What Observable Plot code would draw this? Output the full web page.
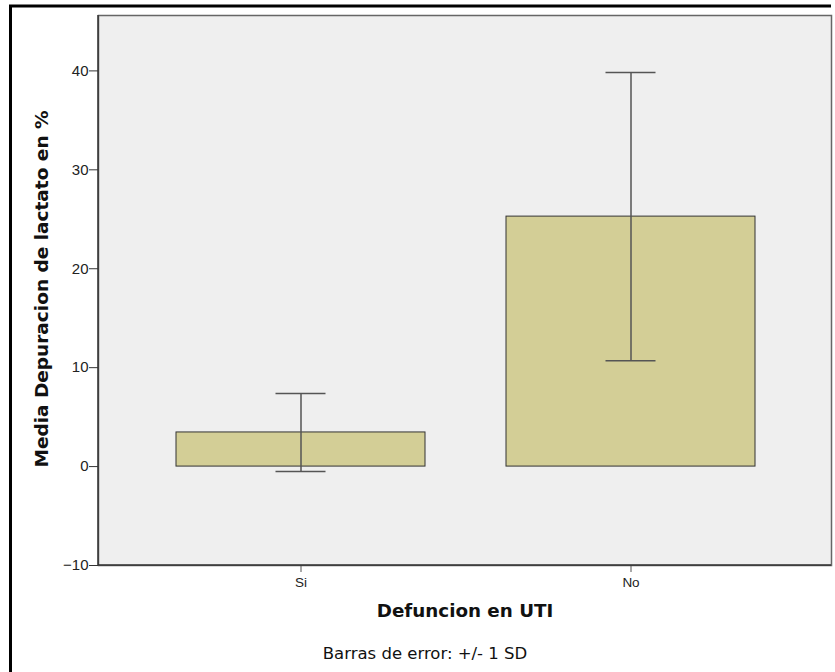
<!DOCTYPE html>
<html>
<head>
<meta charset="utf-8">
<script src="https://cdn.jsdelivr.net/npm/d3@7"></script>
<script src="https://cdn.jsdelivr.net/npm/@observablehq/plot@0.6"></script>
<style>
  html, body { margin: 0; padding: 0; background: #fff; }
  #chart svg { display: block; }
</style>
</head>
<body>
<div id="chart"></div>
<script>
const categories = ["Si", "No"];
const means = [3.45, 25.27];
const sds = [3.95, 14.58];
const yTicks = [-10, 0, 10, 20, 30, 40];
const yLabel = "Media Depuracion de lactato en %";
const xLabel = "Defuncion en UTI";
const caption = "Barras de error: +/- 1 SD";

const data = categories.map((c, i) => ({cat: c, mean: means[i], lo: means[i] - sds[i], hi: means[i] + sds[i]}));

const W = 835, H = 672;
const mL = 98, mR = 4, mT = 15, mB = 107;
const capHalfInset = 99.5;

const chart = Plot.plot({
  width: W, height: H,
  marginLeft: mL, marginRight: mR, marginTop: mT, marginBottom: mB,
  style: {fontFamily: "'Liberation Sans', Arial, sans-serif", fontSize: "13px", color: "#222", background: "transparent"},
  x: {domain: categories, paddingInner: 0.245, paddingOuter: 0.232, align: 0.51, label: null},
  y: {domain: [-10, 45.6], label: null},
  marks: [
    Plot.frame({fill: "#efefef", stroke: "none"}),
    Plot.barY(data, {x: "cat", y: "mean", fill: "#d3ce96", stroke: "#333", strokeWidth: 1}),
    Plot.ruleX(data, {x: "cat", y1: "lo", y2: "hi", stroke: "#555", strokeWidth: 1.5}),
    Plot.tickY(data, {x: "cat", y: "lo", insetLeft: capHalfInset, insetRight: capHalfInset, stroke: "#555", strokeWidth: 1.5}),
    Plot.tickY(data, {x: "cat", y: "hi", insetLeft: capHalfInset, insetRight: capHalfInset, stroke: "#555", strokeWidth: 1.5}),
    Plot.frame({stroke: "#666", strokeWidth: 1.5}),
    Plot.axisY({ticks: yTicks, tickSize: 9, tickPadding: 1, label: null, stroke: "#333", fontSize: 15}),
    Plot.axisX({tickSize: 7, tickPadding: 5, label: null, stroke: "#555", fontSize: 13.5})
  ]
});

const svg = d3.select(chart);
svg.selectAll('g[aria-label="y-axis tick label"]').style("font-size", "15px");
svg.selectAll('g[aria-label="y-axis tick label"] text').style("font-size", "15px");
svg.selectAll('g[aria-label="x-axis tick label"]').style("font-size", "13.5px");
svg.selectAll('g[aria-label="x-axis tick label"] text').style("font-size", "13.5px");
// left & bottom axis lines darker
svg.append("line").attr("x1", mL).attr("x2", mL).attr("y1", mT).attr("y2", H - mB)
  .attr("stroke", "#333").attr("stroke-width", 1.5);
svg.append("line").attr("x1", mL).attr("x2", W - mR).attr("y1", H - mB).attr("y2", H - mB)
  .attr("stroke", "#333").attr("stroke-width", 1.5);
// outer black frame
svg.append("path").attr("d", `M10.5,${H} V6 H831`).attr("fill", "none")
  .attr("stroke", "#000").attr("stroke-width", 3);
// axis titles
svg.append("text").attr("transform", `translate(48,289) rotate(-90)`)
  .attr("text-anchor", "middle").attr("font-family", "'DejaVu Sans', sans-serif")
  .attr("font-weight", "bold").attr("font-size", 18.5).attr("fill", "#111").text(yLabel);
svg.append("text").attr("x", 465).attr("y", 617)
  .attr("text-anchor", "middle").attr("font-family", "'DejaVu Sans', sans-serif")
  .attr("font-weight", "bold").attr("font-size", 18.3).attr("fill", "#111").text(xLabel);
svg.append("text").attr("x", 425).attr("y", 659)
  .attr("text-anchor", "middle").attr("font-family", "'DejaVu Sans', sans-serif")
  .attr("font-size", 16.5).attr("fill", "#111").text(caption);

document.getElementById("chart").appendChild(chart);
</script>
</body>
</html>
